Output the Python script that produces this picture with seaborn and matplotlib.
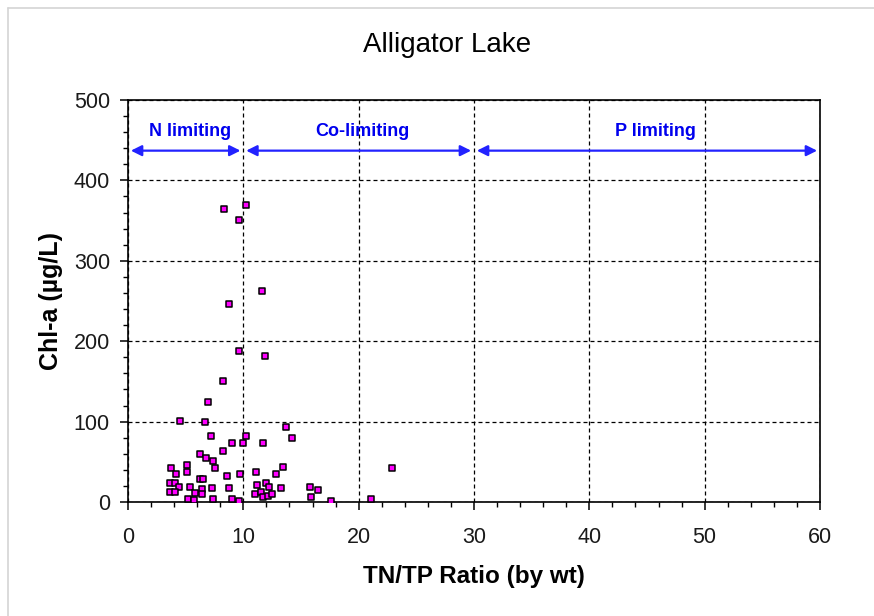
import matplotlib
matplotlib.use("Agg")
import matplotlib.pyplot as plt
from matplotlib.lines import Line2D
from matplotlib.ticker import MultipleLocator
import seaborn as sns
import pandas as pd

# TN/TP ratio (by weight) and chlorophyll-a observations for Alligator Lake
tn_tp = [8.2, 6.9, 4.5, 6.7, 13.7, 14.2, 7.2, 10.2, 9.0, 10.0, 11.7, 8.2, 6.2,
         6.8, 7.4, 7.5, 3.7, 5.1, 5.1, 4.2, 11.1, 13.4, 12.8, 8.6, 9.7, 6.2,
         6.5, 3.6, 4.1, 4.4, 3.6, 4.1, 5.4, 6.4, 7.3, 8.8, 5.8, 6.4, 5.2, 5.7,
         7.4, 9.0, 9.6, 11.2, 12.0, 12.2, 13.3, 11.0, 11.5, 11.7, 12.1, 12.5,
         15.8, 16.5, 15.9, 17.6, 22.9, 21.1, 8.3, 10.2, 9.6, 11.6, 8.8, 9.6,
         11.9]
chla = [150, 124, 101, 99, 93, 80, 82, 82, 73, 73, 73, 64, 60,
        55, 51, 42, 42, 46, 37, 35, 37, 43, 35, 32, 35, 28,
        28, 24, 24, 19, 12, 12, 19, 16, 17, 17, 11, 10, 4, 2,
        4, 4, 1.5, 21, 24, 19, 17, 10, 13, 6, 7.5, 10,
        19, 15, 6, 1.5, 42, 4, 364, 369, 351, 262, 246, 188,
        182]

# Nutrient-limitation zones: (label, start, end)
zone_labels = ["N limiting", "Co-limiting", "P limiting"]
zone_bounds = [(0, 10), (10, 30), (30, 60)]
zone_label_x = [5.4, 20.3, 45.7]

df = pd.DataFrame({"ratio": tn_tp, "chla": chla})

sns.set_style("ticks")
plt.rcParams["font.family"] = ["Liberation Sans", "DejaVu Sans"]
plt.rcParams["text.color"] = "black"
plt.rcParams["axes.labelcolor"] = "black"

fig = plt.figure(figsize=(8.74, 6.16), dpi=100)
ax = fig.add_axes([128 / 874, 1 - 502 / 616, 692 / 874, 402 / 616])

# light outer frame of the chart area
fig.add_artist(Line2D([8 / 874, 8 / 874], [0, 1 - 8 / 616], transform=fig.transFigure,
                      color="#d4d4d4", lw=1.2))
fig.add_artist(Line2D([8 / 874, 1], [1 - 8 / 616, 1 - 8 / 616], transform=fig.transFigure,
                      color="#d4d4d4", lw=1.2))

sns.scatterplot(data=df, x="ratio", y="chla", ax=ax, marker="s", s=24,
                color="#ff00ff", edgecolor="black", linewidth=1.1, zorder=3)

ax.set_xlim(0, 60)
ax.set_ylim(0, 500)
ax.xaxis.set_major_locator(MultipleLocator(10))
ax.xaxis.set_minor_locator(MultipleLocator(2))
ax.yaxis.set_major_locator(MultipleLocator(100))
ax.yaxis.set_minor_locator(MultipleLocator(20))

ax.grid(True, which="major", color="black", linestyle=(0, (3.2, 2.4)), lw=0.9)
ax.set_axisbelow(True)

for sp in ax.spines.values():
    sp.set_color("black")
    sp.set_linewidth(1.2)

ax.tick_params(which="major", direction="out", length=6, width=1.1, color="black",
               labelsize=15.5, labelcolor="#1a1a1a")
ax.tick_params(axis="x", which="major", pad=12)
ax.tick_params(axis="y", which="major", pad=7)
ax.tick_params(which="minor", direction="out", length=3.6, width=1.0, color="black")

ax.set_xlabel("TN/TP Ratio (by wt)", fontsize=17.5, fontweight="bold", labelpad=12)
ax.set_ylabel("Chl-a (µg/L)", fontsize=18, fontweight="bold", labelpad=8)
fig.suptitle("Alligator Lake", x=447 / 874, y=1 - 32 / 616, fontsize=20, va="top",
             color="black")

# zone arrows and labels
for label, (x0, x1), lx in zip(zone_labels, zone_bounds, zone_label_x):
    ax.annotate("", xy=(x1 - 0.25, 437), xytext=(x0 + 0.25, 437),
                arrowprops=dict(arrowstyle="<|-|>", color="#2222ff", lw=1.6,
                                mutation_scale=16, shrinkA=0, shrinkB=0),
                zorder=4)
    ax.text(lx, 450, label, ha="center", va="bottom", color="#0000ee",
            fontsize=13, fontweight="bold", zorder=4)

ax.set_xticks(range(0, 61, 10))
ax.set_yticks(range(0, 501, 100))

fig.savefig("out.png", dpi=100)
